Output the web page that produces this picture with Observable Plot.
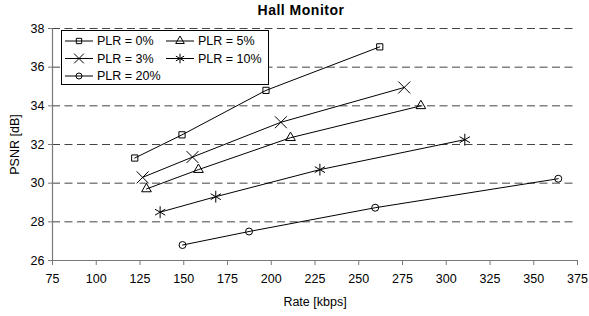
<!DOCTYPE html>
<html>
<head>
<meta charset="utf-8">
<script src="https://cdn.jsdelivr.net/npm/d3@7"></script>
<script src="https://cdn.jsdelivr.net/npm/@observablehq/plot@0.6"></script>
<style>
  body { margin: 0; background: #fff; }
  #wrap { position: relative; width: 589px; height: 316px; font-family: "Liberation Sans", Arial, sans-serif; }
  #title { position: absolute; left: 0; width: 602px; top: 2px; text-align: center; font-weight: bold; font-size: 14px; letter-spacing: 0.5px; }
  #legend { position: absolute; left: 61px; top: 30px; }
</style>
</head>
<body>
<div id="wrap">
  <div id="chart"></div>
  <div id="title">Hall Monitor</div>
  <svg id="legend" width="209" height="56"></svg>
</div>
<script>
const titleText = "Hall Monitor";
const xLabel = "Rate [kbps]";
const yLabel = "PSNR [dB]";
const xTicks = [75, 100, 125, 150, 175, 200, 225, 250, 275, 300, 325, 350, 375];
const yTicks = [26, 28, 30, 32, 34, 36, 38];

const seriesNames = ["PLR = 0%", "PLR = 3%", "PLR = 5%", "PLR = 10%", "PLR = 20%"];
const seriesSymbols = ["square", "times", "triangle", "asterisk", "circle"];

const rate0 = [122, 149, 197, 262];
const psnr0 = [31.3, 32.5, 34.8, 37.05];
const rate3 = [126.5, 155, 205.5, 276];
const psnr3 = [30.3, 31.35, 33.15, 34.95];
const rate5 = [128.7, 158.4, 211, 285.5];
const psnr5 = [29.7, 30.7, 32.35, 34.0];
const rate10 = [136.5, 168.3, 227.8, 310.6];
const psnr10 = [28.5, 29.3, 30.7, 32.25];
const rate20 = [149.3, 187.3, 259.4, 364];
const psnr20 = [26.8, 27.5, 28.73, 30.23];

const rates = [rate0, rate3, rate5, rate10, rate20];
const psnrs = [psnr0, psnr3, psnr5, psnr10, psnr20];
const symR = {square: 3.5, times: 5.5, triangle: 3.6, asterisk: 5.6, circle: 3.5};

const data = [];
seriesNames.forEach((s, i) => rates[i].forEach((r, j) => data.push({series: s, sym: seriesSymbols[i], rate: r, psnr: psnrs[i][j]})));

const marks = [
  Plot.ruleY(yTicks.filter(t => t > 26), {stroke: "#444", strokeWidth: 1, strokeDasharray: "8,4.5"}),
  Plot.axisX({ticks: xTicks, tickSize: 5, tickPadding: 9, stroke: "#777", fill: "#000", fontSize: 12.5, label: xLabel, labelAnchor: "center", labelArrow: "none", labelOffset: 45}),
  Plot.axisY({ticks: yTicks, tickSize: 4, tickPadding: 4, stroke: "#777", fill: "#000", fontSize: 12.5, label: yLabel, labelAnchor: "center", labelArrow: "none", labelOffset: 42}),
  Plot.ruleX([75], {stroke: "#777", strokeWidth: 1.2}),
  Plot.ruleY([26], {stroke: "#777", strokeWidth: 1.2}),
  Plot.line(data, {x: "rate", y: "psnr", z: "series", stroke: "#000", strokeWidth: 1})
];
seriesSymbols.forEach((sym, i) => {
  marks.push(Plot.dot(data.filter(d => d.sym === sym), {x: "rate", y: "psnr", symbol: () => sym, r: symR[sym], stroke: "#000", fill: "none", strokeWidth: 1}));
});

const chart = Plot.plot({
  width: 589,
  height: 316,
  marginLeft: 52,
  marginRight: 12,
  marginTop: 28,
  marginBottom: 56,
  style: {fontFamily: "'Liberation Sans', Arial, sans-serif", fontSize: "12.5px", color: "#000", background: "#fff"},
  x: {domain: [75, 375]},
  y: {domain: [26, 38]},
  symbol: {type: "identity"},
  marks
});
document.getElementById("chart").append(chart);

// legend
const lg = d3.select("#legend");
lg.append("rect").attr("x", 0.5).attr("y", 0.5).attr("width", 207).attr("height", 54).attr("fill", "#fff").attr("stroke", "#000");
const legendSym = {square: d3.symbolSquare, times: d3.symbolTimes, triangle: d3.symbolTriangle, asterisk: d3.symbolAsterisk, circle: d3.symbolCircle};
const legR = {square: 3, times: 4.5, triangle: 3.2, asterisk: 4.5, circle: 3};
const order = [0, 2, 1, 3, 4];
order.forEach((si, k) => {
  const col = k < 4 ? k % 2 : 0;
  const row = k < 4 ? Math.floor(k / 2) : 2;
  const x0 = 4 + col * 101, y0 = 11 + row * 17.5;
  const g = lg.append("g").attr("transform", `translate(${x0},${y0})`);
  g.append("line").attr("x1", 0).attr("x2", 28).attr("y1", 0).attr("y2", 0).attr("stroke", "#000");
  const sym = seriesSymbols[si];
  const r = legR[sym];
  g.append("path").attr("transform", "translate(14,0)").attr("d", d3.symbol(legendSym[sym], r * r * Math.PI)()).attr("fill", "none").attr("stroke", "#000");
  g.append("text").attr("x", 32).attr("y", 0).attr("dy", "0.35em").attr("font-size", 12.5).text(seriesNames[si]);
});
</script>
</body>
</html>
